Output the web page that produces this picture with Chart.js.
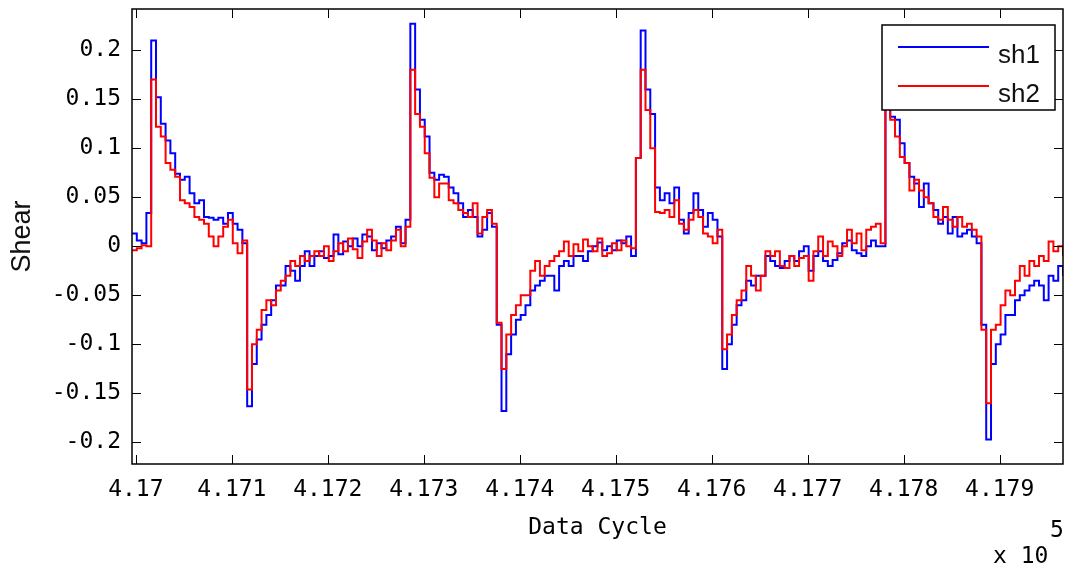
<!DOCTYPE html>
<html><head><meta charset="utf-8">
<script src="https://cdn.jsdelivr.net/npm/chart.js@4/dist/chart.umd.min.js"></script>
<style>html,body{margin:0;padding:0;background:#fff;}canvas{display:block;}</style>
</head><body>
<canvas id="c" width="1070" height="571"></canvas>
<script>
// sample grid (data cycle), one sample every 5 cycles
const xStart = 416996, xStep = 5;
const sh1 = [
 0.013,0.006,0.003,0.034,0.21,0.152,0.125,0.108,0.095,0.074,
 0.068,0.071,0.054,0.044,0.047,0.030,0.029,0.027,0.029,0.023,
 0.034,0.023,0.017,0.003,-0.163,-0.12,-0.095,-0.08,-0.07,-0.055,
 -0.04,-0.04,-0.02,-0.025,-0.035,-0.02,-0.005,-0.02,-0.01,-0.005,
 -0.012,-0.01,0.012,-0.008,0.005,0.0,0.008,0.0,0.012,0.01,
 -0.004,0.003,-0.002,0.006,0.01,0.02,0.003,0.027,0.227,0.16,
 0.129,0.112,0.075,0.068,0.073,0.071,0.06,0.054,0.044,0.03,
 0.037,0.03,0.01,0.017,0.034,0.02,-0.08,-0.168,-0.11,-0.09,
 -0.075,-0.07,-0.06,-0.045,-0.04,-0.035,-0.03,-0.03,-0.045,-0.02,
 -0.015,-0.02,-0.01,-0.01,-0.015,-0.005,0.0,0.004,-0.004,0.0,
 -0.004,0.006,0.003,0.01,-0.01,0.09,0.22,0.16,0.135,0.06,
 0.047,0.054,0.044,0.06,0.027,0.013,0.034,0.054,0.037,0.02,
 0.034,0.027,0.01,-0.125,-0.1,-0.08,-0.06,-0.055,-0.035,-0.04,
 -0.03,-0.03,-0.01,-0.015,-0.02,-0.022,-0.015,-0.01,-0.015,-0.005,
 0.0,-0.025,-0.01,-0.005,-0.015,-0.02,-0.014,-0.007,0.003,0.006,
 -0.004,-0.007,-0.01,0.0,0.006,0.0,0.0,0.21,0.132,0.129,
 0.105,0.085,0.071,0.064,0.04,0.064,0.044,0.037,0.023,0.03,
 0.013,0.03,0.01,0.013,0.017,0.01,0.003,-0.08,-0.197,-0.12,
 -0.1,-0.09,-0.07,-0.07,-0.055,-0.05,-0.045,-0.04,-0.035,-0.04,
 -0.055,-0.03,-0.035,-0.02,-0.03
];
const sh2 = [
 -0.004,-0.002,0.001,0.0,0.17,0.122,0.112,0.085,0.078,0.071,
 0.047,0.044,0.04,0.03,0.027,0.023,0.01,0.0,0.01,0.02,
 0.027,0.003,-0.007,0.006,-0.146,-0.1,-0.085,-0.065,-0.055,-0.06,
 -0.045,-0.035,-0.03,-0.015,-0.02,-0.01,-0.015,-0.01,-0.005,-0.01,
 0.0,-0.015,-0.005,0.003,-0.005,0.008,-0.003,-0.012,0.005,0.017,
 0.006,-0.01,0.003,-0.004,0.006,0.017,0.0,0.02,0.18,0.135,
 0.122,0.095,0.07,0.05,0.064,0.064,0.047,0.044,0.037,0.034,
 0.03,0.044,0.013,0.03,0.037,0.023,-0.078,-0.125,-0.09,-0.07,
 -0.06,-0.05,-0.05,-0.025,-0.015,-0.03,-0.02,-0.015,-0.01,-0.005,
 0.005,-0.01,0.002,-0.005,0.007,0.0,-0.005,0.008,-0.01,-0.007,
 0.003,-0.004,0.006,0.0,-0.002,0.09,0.18,0.139,0.1,0.035,
 0.034,0.037,0.03,0.047,0.023,0.017,0.027,0.037,0.03,0.013,
 0.01,0.003,0.017,-0.105,-0.09,-0.07,-0.055,-0.045,-0.02,-0.03,
 -0.045,-0.03,-0.005,-0.01,-0.005,-0.02,-0.022,-0.01,-0.02,-0.012,
 -0.01,-0.035,-0.005,0.01,-0.01,0.005,0.0,-0.01,0.0,0.017,
 0.003,0.013,-0.004,0.017,0.02,0.023,0.003,0.175,0.129,0.112,
 0.091,0.085,0.057,0.068,0.057,0.05,0.044,0.03,0.027,0.04,
 0.027,0.02,0.03,0.02,0.023,0.017,0.01,-0.085,-0.16,-0.085,
 -0.08,-0.06,-0.045,-0.05,-0.035,-0.02,-0.03,-0.015,-0.02,-0.01,
 -0.015,0.005,-0.005,0.0,-0.01
];
const seriesNames = ['sh1', 'sh2'];
const seriesColors = ['#0000ff', '#ff0000'];
const xTicks = [417000,417100,417200,417300,417400,417500,417600,417700,417800,417900];
const xTickLabels = ['4.17','4.171','4.172','4.173','4.174','4.175','4.176','4.177','4.178','4.179'];
const yTicks = [-0.2,-0.15,-0.1,-0.05,0,0.05,0.1,0.15,0.2];
const yTickLabels = ['-0.2','-0.15','-0.1','-0.05','0','0.05','0.1','0.15','0.2'];
const xRange = [416996, 417966];
const yRange = [-0.222, 0.242];

const MONO = "'DejaVu Sans Mono', monospace";
const SANS = "'Liberation Sans', Arial, sans-serif";

function toPoints(arr) { return arr.map((v, i) => ({ x: xStart + i * xStep, y: v })); }

const framePlugin = {
  id: 'frame',
  afterDatasetsDraw(chart) {
    const { ctx, chartArea: a, scales: { x, y } } = chart;
    ctx.save();
    ctx.strokeStyle = '#000';
    ctx.lineWidth = 1;
    ctx.beginPath();
    xTicks.forEach(v => {
      const px = Math.round(x.getPixelForValue(v)) + 0.5;
      ctx.moveTo(px, a.bottom); ctx.lineTo(px, a.bottom - 9);
      ctx.moveTo(px, a.top); ctx.lineTo(px, a.top + 9);
    });
    yTicks.forEach(v => {
      const py = Math.round(y.getPixelForValue(v)) + 0.5;
      ctx.moveTo(a.left, py); ctx.lineTo(a.left + 9, py);
      ctx.moveTo(a.right, py); ctx.lineTo(a.right - 9, py);
    });
    ctx.stroke();
    ctx.lineWidth = 1.5;
    ctx.strokeRect(a.left, a.top, a.right - a.left, a.bottom - a.top);

    // legend box (MATLAB style)
    const bx = a.right - 181, by = a.top + 16, bw = 173, bh = 85;
    ctx.fillStyle = '#fff';
    ctx.fillRect(bx, by, bw, bh);
    ctx.lineWidth = 1.5;
    ctx.strokeRect(bx, by, bw, bh);
    ctx.font = '26px ' + SANS;
    ctx.textAlign = 'left';
    ctx.textBaseline = 'alphabetic';
    seriesNames.forEach((name, i) => {
      const ly = by + 22 + i * 39;
      ctx.strokeStyle = seriesColors[i];
      ctx.lineWidth = 1.8;
      ctx.beginPath(); ctx.moveTo(bx + 16, ly); ctx.lineTo(bx + 107, ly); ctx.stroke();
      ctx.fillStyle = '#111';
      ctx.fillText(name, bx + 116, ly + 16);
    });

    // exponent note
    ctx.fillStyle = '#000';
    ctx.font = '23px ' + MONO;
    ctx.fillText('x 10', 993, 563);
    ctx.fillText('5', 1050, 537);
    ctx.restore();
  }
};

new Chart(document.getElementById('c'), {
  type: 'line',
  data: {
    datasets: [
      { label: seriesNames[0], data: toPoints(sh1), borderColor: seriesColors[0], backgroundColor: seriesColors[0],
        borderWidth: 2, pointRadius: 0, stepped: true, fill: false, order: 2 },
      { label: seriesNames[1], data: toPoints(sh2), borderColor: seriesColors[1], backgroundColor: seriesColors[1],
        borderWidth: 2, pointRadius: 0, stepped: true, fill: false, order: 1 }
    ]
  },
  options: {
    responsive: false,
    animation: false,
    devicePixelRatio: 1,
    layout: { padding: { top: 9, right: 7, left: 0, bottom: 0 } },
    plugins: { legend: { display: false }, tooltip: { enabled: false } },
    scales: {
      x: {
        type: 'linear', min: xRange[0], max: xRange[1],
        afterBuildTicks: s => { s.ticks = xTicks.map(v => ({ value: v })); },
        afterFit: s => { s.height = 107; s.paddingLeft = 0; s.paddingRight = 0; },
        grid: { display: false, drawTicks: false },
        border: { display: false },
        ticks: { autoSkip: false, maxRotation: 0, color: '#000', padding: 12,
          font: { family: MONO, size: 23 },
          callback: v => { const k = xTicks.indexOf(v); return k >= 0 ? xTickLabels[k] : ''; } },
        title: { display: true, text: 'Data Cycle', color: '#000', font: { family: MONO, size: 23 },
          padding: { top: 0, bottom: 29 } }
      },
      y: {
        type: 'linear', min: yRange[0], max: yRange[1],
        afterBuildTicks: s => { s.ticks = yTicks.map(v => ({ value: v })); },
        afterFit: s => { s.width = 132; s.paddingTop = 0; s.paddingBottom = 0; },
        grid: { display: false, drawTicks: false },
        border: { display: false },
        ticks: { color: '#000', padding: 11, font: { family: MONO, size: 23 },
          callback: v => { const k = yTicks.findIndex(t => Math.abs(t - v) < 1e-9); return k >= 0 ? yTickLabels[k] : ''; } },
        title: { display: true, text: 'Shear', color: '#111', font: { family: SANS, size: 27 },
          padding: { top: 6, bottom: 0 } }
      }
    }
  },
  plugins: [framePlugin]
});
</script>
</body></html>
